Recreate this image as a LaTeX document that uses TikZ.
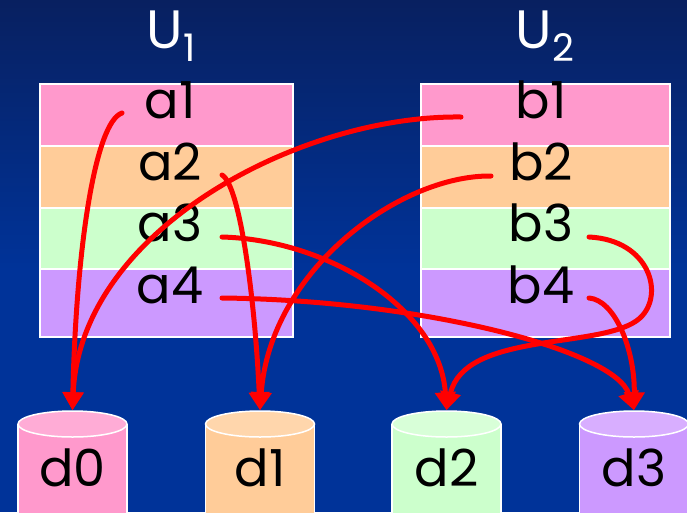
\documentclass[tikz,border=0pt]{standalone}
\usepackage{fontspec}
\setmainfont{Poppins}
\usetikzlibrary{arrows.meta,shapes.geometric}
\definecolor{bgtop}{RGB}{8,32,96}
\definecolor{bgbot}{RGB}{0,51,153}
\definecolor{rpink}{RGB}{255,153,204}
\definecolor{rorange}{RGB}{255,204,153}
\definecolor{rgreen}{RGB}{204,255,204}
\definecolor{rpurple}{RGB}{204,153,255}
\definecolor{tpink}{RGB}{255,172,214}
\definecolor{torange}{RGB}{255,214,172}
\definecolor{tgreen}{RGB}{216,255,216}
\definecolor{tpurple}{RGB}{216,174,255}
\definecolor{arred}{RGB}{255,0,0}
\begin{document}
\begin{tikzpicture}[x=1pt,y=-1pt,
  rowbox/.style={draw=white, line width=1.5pt, minimum width=253pt, inner sep=0pt, anchor=north west},
  rowboxb/.style={rowbox, minimum width=249pt},
  lbl/.style={font=\fontsize{51}{51}\selectfont, text=black, anchor=base, inner sep=0pt},
  ttl/.style={font=\fontsize{54}{54}\selectfont, text=white, anchor=base, inner sep=0pt},
  topface/.style={ellipse, draw=white, line width=1.5pt, minimum width=109pt, minimum height=26pt, inner sep=0pt},
  body/.style={draw=white, line width=1.5pt},
  arr/.style={draw=arred, line width=5pt, line cap=round, -{Triangle[length=18pt,width=20pt]}}
]
\useasboundingbox (0,0) rectangle (687,512);
\clip (0,0) rectangle (687,512);
\fill[bgbot] (0,0) rectangle (687,512);
\shade[top color=bgtop, bottom color=bgbot] (0,0) rectangle (687,270);

% titles
\node[ttl] (u1) at (171,48) {U\raisebox{-13pt}{\fontsize{38}{38}\selectfont 1}};
\node[ttl] (u2) at (545,48) {U\raisebox{-13pt}{\fontsize{38}{38}\selectfont 2}};

% left table
\node[rowbox, fill=rpink,   minimum height=62pt] (ra1) at (39,83) {};
\node[rowbox, fill=rorange, minimum height=62pt] (ra2) at (39,145) {};
\node[rowbox, fill=rgreen,  minimum height=61pt] (ra3) at (39,207) {};
\node[rowbox, fill=rpurple, minimum height=68pt] (ra4) at (39,268) {};
% right table
\node[rowboxb, fill=rpink,   minimum height=62pt] (rb1) at (420,83) {};
\node[rowboxb, fill=rorange, minimum height=62pt] (rb2) at (420,145) {};
\node[rowboxb, fill=rgreen,  minimum height=61pt] (rb3) at (420,207) {};
\node[rowboxb, fill=rpurple, minimum height=68pt] (rb4) at (420,268) {};

\node[lbl] (a1) at (170,118) {a1};
\node[lbl] (a2) at (170,180) {a2};
\node[lbl] (a3) at (170,241) {a3};
\node[lbl] (a4) at (170,303) {a4};
\node[lbl] (b1) at (541,118) {b1};
\node[lbl] (b2) at (541,180) {b2};
\node[lbl] (b3) at (541,241) {b3};
\node[lbl] (b4) at (541,303) {b4};

% disks
\foreach \x/\bc/\tc/\n in {72.5/rpink/tpink/0, 260/rorange/torange/1, 446.5/rgreen/tgreen/2, 634/rpurple/tpurple/3}{
  \path[body, fill=\bc] (\x-54.5,424) -- (\x-54.5,530) -- (\x+54.5,530) -- (\x+54.5,424);
  \node[topface, fill=\tc] (e\n) at (\x,424) {};
  \node[lbl] (d\n) at (\x,486) {d\n};
}

% connector start points
\coordinate (sa1) at (122,113);
\coordinate (sa2) at (222,175);
\coordinate (sa3) at (222,237);
\coordinate (sa4) at (222,298);
\coordinate (sb1) at (461,117);
\coordinate (sb2) at (491,176);
\coordinate (sb3) at (589,237);
\coordinate (sb4) at (589,298);

\draw[arr] (sa1) .. controls (95,122) and (76,250) .. (e0.north);
\draw[arr] (sa2) .. controls (240,185) and (255,300) .. (e1.north);
\draw[arr] (sa3) .. controls (330,240) and (440,310) .. (e2.north);
\draw[arr] (sa4) .. controls (420,300) and (615,350) .. (e3.north);
\draw[arr] (sb1) .. controls (300,115) and (80,230) .. (e0.north);
\draw[arr] (sb2) .. controls (400,175) and (270,270) .. (e1.north);
\draw[arr] (sb3) .. controls (650,240) and (665,295) .. (640,318)
                 .. controls (605,350) and (465,330) .. (e2.north);
\draw[arr] (sb4) .. controls (615,300) and (635,350) .. (e3.north);
\end{tikzpicture}
\end{document}
